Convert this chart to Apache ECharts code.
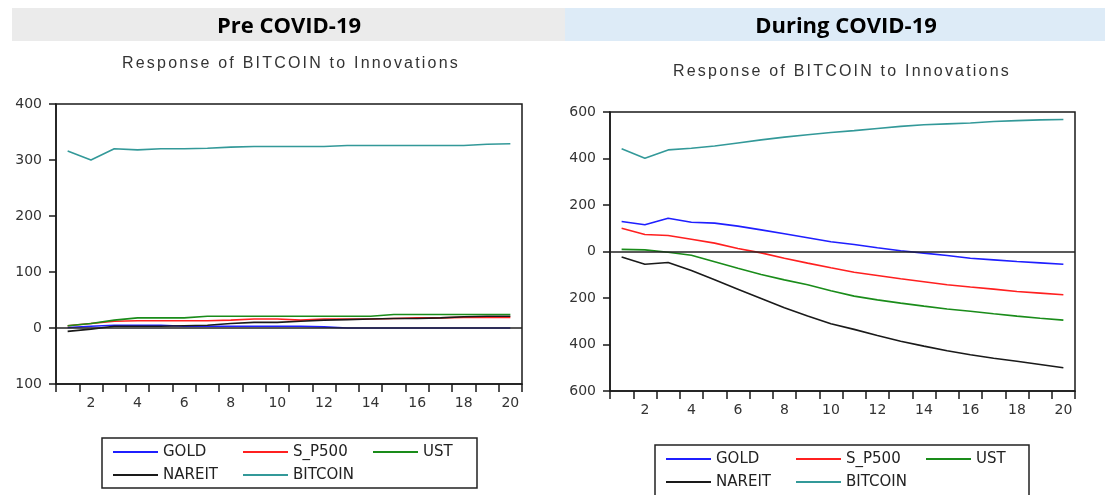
<!DOCTYPE html>
<html>
<head>
<meta charset="utf-8">
<script src="https://cdn.jsdelivr.net/npm/echarts@6/dist/echarts.min.js"></script>
<style>
  html, body { margin:0; padding:0; background:#fff; }
  #wrap { position:relative; width:1105px; height:495px; overflow:hidden; }
  #chart { position:absolute; left:0; top:0; width:1105px; height:495px; }
  .sub { position:absolute; font-family:"Liberation Sans", Arial, sans-serif; font-size:16px;
         letter-spacing:2.2px; color:#333; white-space:nowrap; transform:translate(-50%,-50%); }
</style>
</head>
<body>
<div id="wrap">
  <div id="chart"></div>
  <div class="sub" style="left:291px; top:63px;">Response of BITCOIN to Innovations</div>
  <div class="sub" style="left:842px; top:71px;">Response of BITCOIN to Innovations</div>
</div>
<script>
// ---- data ----
const periods = ['1','2','3','4','5','6','7','8','9','10','11','12','13','14','15','16','17','18','19','20'];
const seriesNames = ['GOLD','S_P500','UST','NAREIT','BITCOIN'];
const seriesColors = ['#1f1fff','#ff2020','#1a8c1a','#1a1a1a','#339999'];

// Pre COVID-19
const preGOLD    = [1, 3, 5, 5, 5, 3, 3, 3, 3, 3, 3, 2, 0, 0, 0, 0, 0, 0, 0, 0];
const preSP500   = [4, 8, 12, 13, 13, 13, 13, 14, 16, 16, 14, 16, 16, 16, 17, 18, 18, 19, 19, 19];
const preUST     = [4, 8, 14, 18, 18, 18, 21, 21, 21, 21, 21, 21, 21, 21, 24, 24, 24, 24, 24, 24];
const preNAREIT  = [-6, -2, 3, 3, 3, 4, 5, 8, 10, 10, 12, 14, 15, 16, 17, 17, 18, 20, 21, 21];
const preBITCOIN = [316, 300, 320, 318, 320, 320, 321, 323, 324, 324, 324, 324, 326, 326, 326, 326, 326, 326, 328, 329];

// During COVID-19
const durGOLD    = [129, 115, 143, 126, 122, 109, 93, 76, 59, 42, 30, 16, 3, -7, -17, -29, -36, -43, -49, -55];
const durSP500   = [100, 73, 69, 53, 36, 13, -6, -29, -50, -70, -89, -103, -117, -130, -143, -153, -162, -172, -179, -186];
const durUST     = [9, 7, -3, -16, -44, -72, -99, -122, -143, -169, -192, -208, -222, -235, -247, -257, -268, -278, -287, -295];
const durNAREIT  = [-24, -55, -47, -82, -122, -162, -202, -242, -277, -311, -335, -361, -386, -407, -427, -444, -459, -472, -486, -500];
const durBITCOIN = [442, 401, 437, 444, 454, 467, 480, 492, 502, 512, 520, 529, 538, 545, 549, 553, 559, 563, 566, 568];

const preY = {min:-100, max:400, interval:100};
const durY = {min:-600, max:600, interval:200};

// ---- chart ----
const chart = echarts.init(document.getElementById('chart'), null, {renderer:'canvas'});
const tickFont = {fontFamily:'DejaVu Sans', fontSize:14, color:'#333'};
const axisColor = '#1a1a1a';

function xAxis(gi){
  return {
    type:'category', gridIndex:gi, data:periods, boundaryGap:true, position:'bottom',
    axisLine:{show:true, onZero:false, lineStyle:{color:axisColor, width:1.5}},
    axisTick:{show:true, interval:0, inside:false, length:8, lineStyle:{color:axisColor, width:1.5}},
    axisLabel:Object.assign({interval:function(i){return i%2===1;}, margin:12}, tickFont),
    splitLine:{show:false}
  };
}
function yAxis(gi, r){
  return {
    type:'value', gridIndex:gi, min:r.min, max:r.max, interval:r.interval,
    axisLine:{show:true, lineStyle:{color:axisColor, width:1.5}},
    axisTick:{show:true, inside:false, length:7, lineStyle:{color:axisColor, width:1.5}},
    axisLabel:Object.assign({margin:14, formatter:function(v){return String(Math.abs(v));}}, tickFont),
    splitLine:{show:false}
  };
}
const preData = [preGOLD, preSP500, preUST, preNAREIT, preBITCOIN];
const durData = [durGOLD, durSP500, durUST, durNAREIT, durBITCOIN];
const series = [];
function addSeries(dataArr, gi){
  dataArr.forEach(function(d, k){
    const s = {
      name:seriesNames[k], type:'line', xAxisIndex:gi, yAxisIndex:gi, data:d,
      showSymbol:false, symbol:'none', animation:false,
      lineStyle:{color:seriesColors[k], width:1.6}, itemStyle:{color:seriesColors[k]}
    };
    if (k===0) {
      s.markLine = {silent:true, symbol:'none', animation:false, label:{show:false},
        lineStyle:{color:'#222', width:1.5, type:'solid'}, data:[{yAxis:0}]};
    }
    series.push(s);
  });
}
addSeries(preData, 0);
addSeries(durData, 1);

const legendText = {fontFamily:'DejaVu Sans', fontSize:15, color:'#222', width:72, lineHeight:16};
function legend(left, top, names){
  return {left:left, top:top, padding:0, orient:'horizontal', itemGap:8, itemWidth:45, itemHeight:2,
    icon:'rect', data:names, textStyle:legendText, selectedMode:false};
}

chart.setOption({
  backgroundColor:'transparent',
  animation:false,
  grid:[
    {left:56, top:104, width:466, height:280, show:true, borderColor:axisColor, borderWidth:1.5, backgroundColor:'transparent', containLabel:false},
    {left:610, top:112, width:465, height:279, show:true, borderColor:axisColor, borderWidth:1.5, backgroundColor:'transparent', containLabel:false}
  ],
  xAxis:[xAxis(0), xAxis(1)],
  yAxis:[yAxis(0, preY), yAxis(1, durY)],
  legend:[
    legend(113, 444, ['GOLD','S_P500','UST']),
    legend(113, 467, ['NAREIT','BITCOIN']),
    legend(666, 451, ['GOLD','S_P500','UST']),
    legend(666, 474, ['NAREIT','BITCOIN'])
  ],
  graphic:[
    {type:'rect', z:-10, silent:true, shape:{x:12, y:8, width:553, height:33}, style:{fill:'#ebebeb'}},
    {type:'rect', z:-10, silent:true, shape:{x:565, y:8, width:540, height:33}, style:{fill:'#ddebf7'}},
    {type:'text', z:-5, silent:true, x:289, y:27, style:{text:'Pre COVID-19', fill:'#000',
      font:'bold 22px "Open Sans"', textAlign:'center', textVerticalAlign:'middle'}},
    {type:'text', z:-5, silent:true, x:846, y:27, style:{text:'During COVID-19', fill:'#000',
      font:'bold 22px "Open Sans"', textAlign:'center', textVerticalAlign:'middle'}},
    {type:'rect', silent:true, shape:{x:102, y:438, width:375, height:50}, style:{fill:'none', stroke:'#222', lineWidth:1.5}},
    {type:'rect', silent:true, shape:{x:655, y:445, width:374, height:60}, style:{fill:'none', stroke:'#222', lineWidth:1.5}}
  ],
  series:series
});
</script>
</body>
</html>
